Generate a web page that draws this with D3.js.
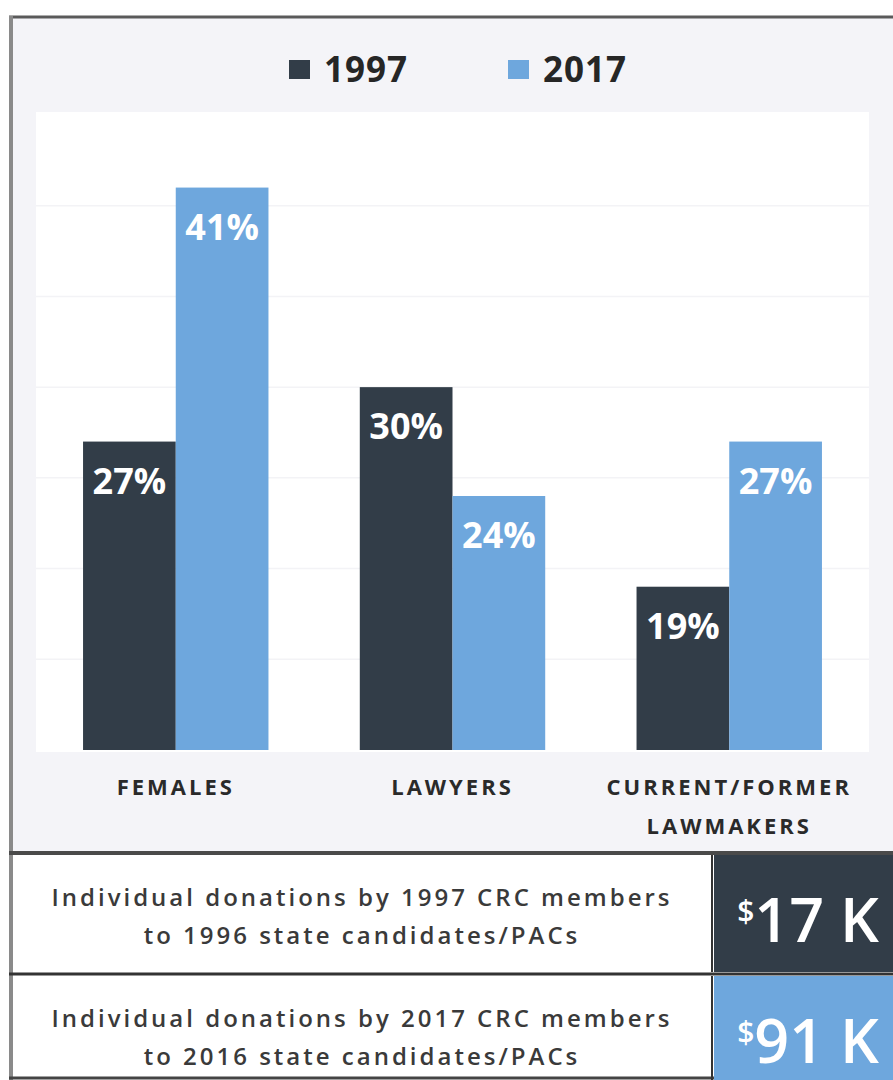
<!DOCTYPE html>
<html>
<head>
<meta charset="utf-8">
<script src="https://cdn.jsdelivr.net/npm/d3@7"></script>
<style>
  body { margin: 0; background: #fff; }
  svg { display: block; }
</style>
</head>
<body>
<div id="chart"></div>
<script>
// data
var categories = ["FEMALES", "LAWYERS", "CURRENT/FORMER LAWMAKERS"];
var categoryLines = [["FEMALES"], ["LAWYERS"], ["CURRENT/FORMER", "LAWMAKERS"]];
var years = ["1997", "2017"];
var values1997 = [27, 30, 19];
var values2017 = [41, 24, 27];
var gridTicks = [15, 20, 25, 30, 35, 40];
var donationText = [
  ["Individual donations by 1997 CRC members", "to 1996 state candidates/PACs"],
  ["Individual donations by 2017 CRC members", "to 2016 state candidates/PACs"]
];
var donationAmounts = ["17 K", "91 K"];

var W = 893, H = 1080;
var dark = "#323d48", light = "#6ea7dd";
var colors = [dark, light];

var svg = d3.select("#chart").append("svg")
  .attr("width", W)
  .attr("height", H)

// outer frame
svg.append("rect").attr("x", 0).attr("y", 0).attr("width", W).attr("height", H).attr("fill", "#fff");
svg.append("rect").attr("x", 11).attr("y", 18).attr("width", W - 11).attr("height", 835).attr("fill", "#f4f4f8");
svg.append("line").attr("x1", 9).attr("x2", W).attr("y1", 17).attr("y2", 17)
  .attr("stroke", "#5a5a5a").attr("stroke-width", 3);
svg.append("line").attr("x1", 11).attr("x2", 11).attr("y1", 16).attr("y2", H)
  .attr("stroke", "#8a8a8a").attr("stroke-width", 4);

// plot area
var plot = {left: 36, right: 869, top: 112, bottom: 752};
svg.append("rect")
  .attr("x", plot.left).attr("y", plot.top)
  .attr("width", plot.right - plot.left).attr("height", plot.bottom - plot.top)
  .attr("fill", "#ffffff");

var x0 = d3.scaleBand()
  .domain(categories)
  .range([plot.left, plot.right])
  .paddingInner(0.33)
  .paddingOuter(0.17);

var x1 = d3.scaleBand()
  .domain(years)
  .range([0, x0.bandwidth()])
  .padding(0);

var y = d3.scaleLinear()
  .domain([10, 45])
  .range([750, 115]);

// faint gridlines
svg.append("g").selectAll("line")
  .data(gridTicks)
  .enter().append("line")
    .attr("x1", plot.left).attr("x2", plot.right)
    .attr("y1", function(d) { return y(d); })
    .attr("y2", function(d) { return y(d); })
    .attr("stroke", "#f3f3f6").attr("stroke-width", 1.5);

// legend
var legend = svg.append("g");
var legendX = [289, 508];
years.forEach(function(yr, i) {
  legend.append("rect")
    .attr("x", legendX[i]).attr("y", 60)
    .attr("width", 21).attr("height", 19)
    .attr("fill", colors[i]);
  legend.append("text")
    .text(yr)
    .attr("x", legendX[i] + 35).attr("y", 82)
    .attr("font-family", "Open Sans")
    .attr("font-weight", 700)
    .attr("font-size", "35px")
    .attr("letter-spacing", "1px")
    .attr("fill", "#262626");
});

// bars
var rows = [];
categories.forEach(function(c, i) {
  rows.push({cat: c, year: "1997", value: values1997[i], color: dark});
  rows.push({cat: c, year: "2017", value: values2017[i], color: light});
});

var bars = svg.append("g");
bars.selectAll("rect")
  .data(rows)
  .enter().append("rect")
    .attr("x", function(d) { return x0(d.cat) + x1(d.year); })
    .attr("y", function(d) { return y(d.value); })
    .attr("width", x1.bandwidth())
    .attr("height", function(d) { return y(10) - y(d.value); })
    .attr("fill", function(d) { return d.color; });

bars.selectAll("text")
  .data(rows)
  .enter().append("text")
    .text(function(d) { return d.value + "%"; })
    .attr("x", function(d) { return x0(d.cat) + x1(d.year) + x1.bandwidth() / 2; })
    .attr("y", function(d) { return y(d.value) + 52; })
    .attr("text-anchor", "middle")
    .attr("font-family", "Open Sans")
    .attr("font-weight", 700)
    .attr("font-size", "36px")
    .attr("fill", "#fff");

// category labels
var labels = svg.append("g");
categories.forEach(function(c, i) {
  categoryLines[i].forEach(function(line, j) {
    labels.append("text")
      .text(line)
      .attr("x", x0(c) + x0.bandwidth() / 2)
      .attr("y", 795 + j * 39)
      .attr("text-anchor", "middle")
      .attr("font-family", "Open Sans")
      .attr("font-weight", 700)
      .attr("font-size", "22px")
      .attr("letter-spacing", "3px")
      .attr("fill", "#2a2a2a");
  });
});

// donation boxes
var boxTop = [855, 976];
var boxBottom = [972, 1080];
var boxColors = [dark, light];
svg.append("line").attr("x1", 9).attr("x2", W).attr("y1", 853).attr("y2", 853)
  .attr("stroke", "#4a4a4a").attr("stroke-width", 4);
svg.append("line").attr("x1", 9).attr("x2", W).attr("y1", 974).attr("y2", 974)
  .attr("stroke", "#333").attr("stroke-width", 3);
svg.append("line").attr("x1", 9).attr("x2", W).attr("y1", 1078).attr("y2", 1078)
  .attr("stroke", "#444").attr("stroke-width", 3);

donationAmounts.forEach(function(amt, i) {
  svg.append("rect")
    .attr("x", 714).attr("y", boxTop[i])
    .attr("width", W - 714).attr("height", boxBottom[i] - boxTop[i])
    .attr("fill", boxColors[i]);
  svg.append("line")
    .attr("x1", 712).attr("x2", 712).attr("y1", boxTop[i]).attr("y2", boxBottom[i])
    .attr("stroke", "#333").attr("stroke-width", 2);

  var t = svg.append("text")
    .attr("x", 808)
    .attr("y", boxTop[i] + 87)
    .attr("text-anchor", "middle")
    .attr("font-family", "Open Sans")
    .attr("font-weight", 600)
    .attr("fill", "#fff");
  t.append("tspan").text("$")
    .attr("font-size", "30px")
    .attr("dy", "-20");
  t.append("tspan").text(amt)
    .attr("font-size", "61px")
    .attr("dy", "20");

  donationText[i].forEach(function(line, j) {
    svg.append("text")
      .text(line)
      .attr("x", 362)
      .attr("y", boxTop[i] + 51 + j * 38)
      .attr("text-anchor", "middle")
      .attr("font-family", "Open Sans")
      .attr("font-weight", 600)
      .attr("font-size", "24px")
      .attr("letter-spacing", "3px")
      .attr("fill", "#3a3a3a");
  });
});
</script>
</body>
</html>
